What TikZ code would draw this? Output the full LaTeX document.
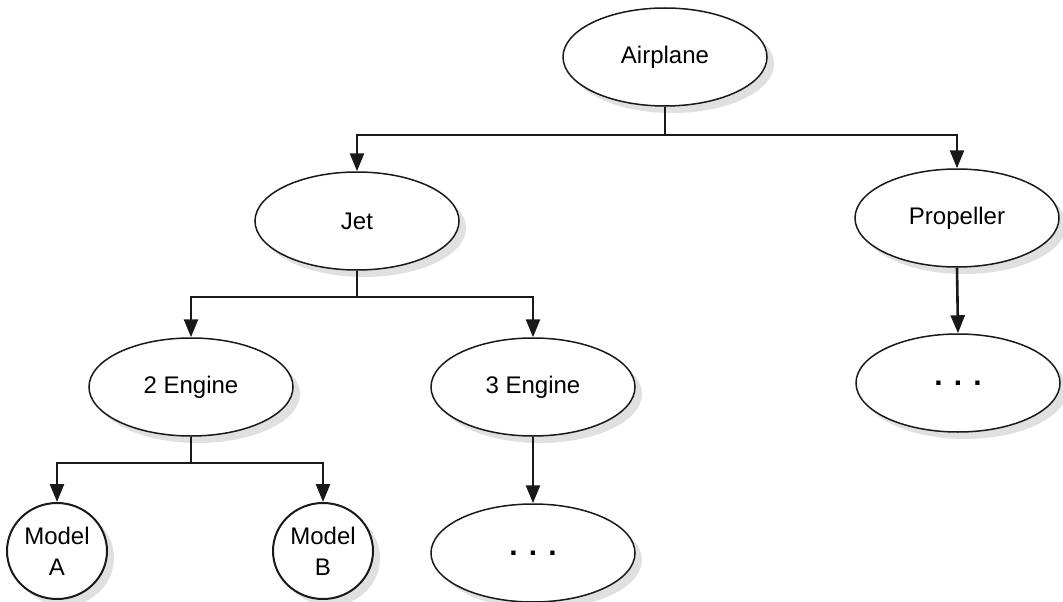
\documentclass[tikz,border=0pt]{standalone}
\usepackage{fontspec}
\setmainfont{Liberation Sans}
\usetikzlibrary{shapes.geometric,shadows,arrows.meta}
\begin{document}
\begin{tikzpicture}[x=1pt,y=-1pt,
  shd/.style={drop shadow={shadow xshift=7pt,shadow yshift=-7pt,fill=black!12,opacity=1}},
  ell/.style={ellipse,draw=black!90,line width=1.5pt,fill=white,shd,minimum width=204pt,minimum height=98pt,inner sep=0pt,font=\fontsize{24}{28}\selectfont},
  circ/.style={ellipse,draw=black!90,line width=2pt,fill=white,shd,minimum width=100pt,minimum height=96pt,inner sep=0pt,align=center,font=\fontsize{24}{31}\selectfont},
  dots/.style={font=\fontsize{30}{30}\selectfont\bfseries},
  conn/.style={line width=2.6pt,black!90},
  arr/.style={conn,-{Triangle[length=18pt,width=14pt]}}]
\useasboundingbox (0,0) rectangle (1063,602);
\node[ell] (air) at (665,57) {Airplane};
\node[ell] (jet) at (357,221) {Jet};
\node[ell] (prop) at (957,218) {Propeller};
\node[ell] (e2) at (191,387) {2 Engine};
\node[ell] (e3) at (533,387) {3 Engine};
\node[ell,dots] (d3) at (533,553) {. . .};
\node[ell,dots] (dp) at (958,383) {. . .};
\node[circ] (ma) at (57,551) {Model\\A};
\node[circ] (mb) at (323,551) {Model\\B};
\coordinate (b1) at (665,135);
\coordinate (b2) at (357,297);
\coordinate (b3) at (191,463);
\draw[conn] (air.south) -- (b1);
\draw[arr] (b1) -| (jet.north);
\draw[arr] (b1) -| (prop.north);
\draw[conn] (jet.south) -- (b2);
\draw[arr] (b2) -| (e2.north);
\draw[arr] (b2) -| (e3.north);
\draw[conn] (e2.south) -- (b3);
\draw[arr] (b3) -| (ma.north);
\draw[arr] (b3) -| (mb.north);
\draw[arr] (e3.south) -- (d3.north);
\draw[arr] (prop.south) -- (dp.north);
\end{tikzpicture}
\end{document}
